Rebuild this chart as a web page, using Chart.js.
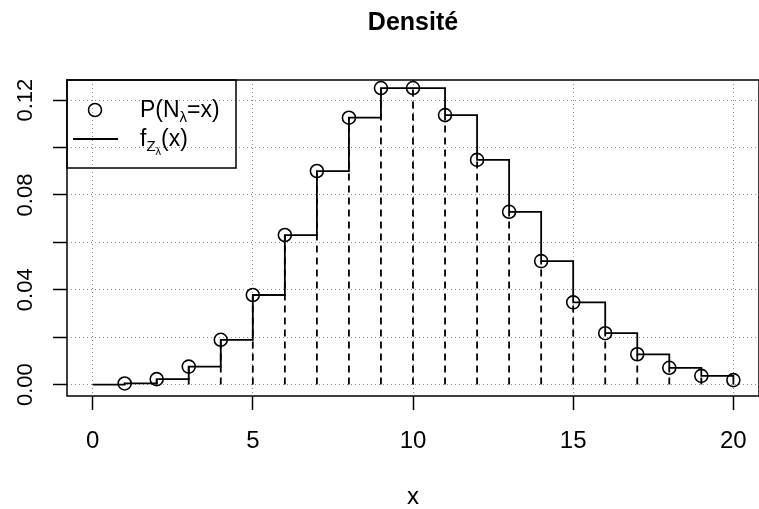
<!DOCTYPE html>
<html lang="fr">
<head>
<meta charset="utf-8">
<title>Densité</title>
<script src="https://cdn.jsdelivr.net/npm/chart.js@4/dist/chart.umd.min.js"></script>
<style>
	html, body { margin: 0; padding: 0; background: #fff; overflow: hidden; }
	#densite { display: block; }
</style>
</head>
<body>
<canvas id="densite" width="759" height="509"></canvas>
<script>
( function() {
	'use strict';

	// P(N = x)
	var xValues = [ 0, 1, 2, 3, 4, 5, 6, 7, 8, 9, 10, 11, 12, 13, 14, 15, 16, 17, 18, 19, 20 ];
	var pValues = [ 0.0000, 0.0005, 0.0023, 0.0076, 0.0189, 0.0378, 0.0631, 0.0901, 0.1126, 0.1251, 0.1251,
		0.1137, 0.0948, 0.0729, 0.0521, 0.0347, 0.0217, 0.0128, 0.0071, 0.0037, 0.0019 ];
	var xTicks = [ 0, 5, 10, 15, 20 ];
	var yTicks = [ 0, 0.02, 0.04, 0.06, 0.08, 0.10, 0.12 ];
	var yLabels = [ 0, 0.04, 0.08, 0.12 ];

	var FONT = '"Liberation Sans", Arial, Helvetica, sans-serif';

	var stepData = [];
	var pointData = [];
	var dashData = [];
	xValues.forEach( function( x, i ) {
		stepData.push( { x: x, y: pValues[ i ] } );
		if ( x < 1 ) {
			return;
		}
		pointData.push( { x: x, y: pValues[ i ] } );
		dashData.push( { x: x, y: 0 } );
		dashData.push( { x: x, y: pValues[ i ] } );
		dashData.push( { x: x, y: null } );
	} );

	function drawParts( ctx, x, y, parts ) {
		parts.forEach( function( p ) {
			ctx.font = p.size + 'px ' + FONT;
			ctx.fillText( p.text, x, y + ( p.dy || 0 ) );
			x += ctx.measureText( p.text ).width;
		} );
	}

	// title, rotated y labels, legend and the box
	var decor = {
		id: 'decor',
		afterDraw: function( chart ) {
			var ctx = chart.ctx;
			var area = chart.chartArea;
			var yScale = chart.scales.y;

			ctx.save();
			ctx.setLineDash( [] );
			ctx.fillStyle = '#000';
			ctx.strokeStyle = '#000';

			ctx.font = 'bold 25px ' + FONT;
			ctx.textAlign = 'center';
			ctx.textBaseline = 'alphabetic';
			ctx.fillText( 'Densité', ( area.left + area.right ) / 2, 30 );

			ctx.font = '22px ' + FONT;
			ctx.textBaseline = 'middle';
			yLabels.forEach( function( v ) {
				ctx.save();
				ctx.translate( 26, yScale.getPixelForValue( v ) );
				ctx.rotate( -Math.PI / 2 );
				ctx.fillText( v.toFixed( 2 ), 0, 0 );
				ctx.restore();
			} );

			ctx.lineWidth = 1.5;
			ctx.strokeRect( area.left, area.top, area.right - area.left, area.bottom - area.top );

			// legend
			ctx.strokeRect( area.left, area.top, 169, 88 );
			ctx.beginPath();
			ctx.arc( 95, 110, 6.5, 0, Math.PI * 2 );
			ctx.stroke();
			ctx.lineWidth = 1.8;
			ctx.beginPath();
			ctx.moveTo( 73, 139 );
			ctx.lineTo( 118, 139 );
			ctx.stroke();

			ctx.textAlign = 'left';
			ctx.textBaseline = 'alphabetic';
			drawParts( ctx, 140, 117, [
				{ text: 'P(N', size: 23 },
				{ text: 'λ', size: 15, dy: 5 },
				{ text: '=x)', size: 23 }
			] );
			drawParts( ctx, 140, 146, [
				{ text: 'f', size: 23 },
				{ text: 'Z', size: 15, dy: 5 },
				{ text: 'λ', size: 11, dy: 9 },
				{ text: '(x)', size: 23 }
			] );
			ctx.restore();
		}
	};

	var gridStyle = {
		color: '#8c8c8c',
		lineWidth: 1,
		tickColor: '#000',
		tickWidth: 1.5,
		tickBorderDash: [],
		tickLength: 14
	};
	var borderStyle = { display: false, dash: [ 1, 3 ] };

	new Chart( document.getElementById( 'densite' ), {
		type: 'scatter',
		data: {
			datasets: [
				{
					label: 'f_Z(x)',
					data: stepData,
					showLine: true,
					stepped: 'before',
					borderColor: '#000',
					borderWidth: 1.8,
					pointRadius: 0,
					fill: false
				},
				{
					label: 'lignes',
					data: dashData,
					showLine: true,
					spanGaps: false,
					borderColor: '#000',
					borderWidth: 1.8,
					borderDash: [ 7, 5 ],
					pointRadius: 0,
					fill: false
				},
				{
					label: 'P(N=x)',
					data: pointData,
					showLine: false,
					pointStyle: 'circle',
					pointRadius: 6.5,
					pointBorderWidth: 1.6,
					pointBorderColor: '#000',
					pointBackgroundColor: 'rgba(0,0,0,0)'
				}
			]
		},
		options: {
			responsive: false,
			devicePixelRatio: 1,
			animation: false,
			layout: {
				autoPadding: false,
				padding: { top: 80, right: -3, left: 0, bottom: 0 }
			},
			plugins: {
				legend: { display: false },
				title: { display: false },
				tooltip: { enabled: false }
			},
			scales: {
				x: {
					type: 'linear',
					min: -0.8,
					max: 20.8,
					afterFit: function( scale ) {
						scale.height = 113;
						scale.paddingLeft = 0;
						scale.paddingRight = 0;
					},
					afterBuildTicks: function( scale ) {
						scale.ticks = xTicks.map( function( v ) {
							return { value: v };
						} );
					},
					grid: gridStyle,
					border: borderStyle,
					ticks: {
						color: '#000',
						padding: 17,
						maxRotation: 0,
						font: { family: FONT, size: 24 }
					},
					title: {
						display: true,
						text: 'x',
						color: '#000',
						padding: { top: 0, bottom: 0 },
						font: { family: FONT, size: 24, lineHeight: 1 }
					}
				},
				y: {
					type: 'linear',
					min: -0.0048,
					max: 0.1285,
					afterFit: function( scale ) {
						scale.width = 67;
						scale.paddingTop = 0;
						scale.paddingBottom = 0;
					},
					afterBuildTicks: function( scale ) {
						scale.ticks = yTicks.map( function( v ) {
							return { value: v };
						} );
					},
					grid: gridStyle,
					border: borderStyle,
					ticks: { display: false }
				}
			}
		},
		plugins: [ decor ]
	} );
} )();
</script>
</body>
</html>
